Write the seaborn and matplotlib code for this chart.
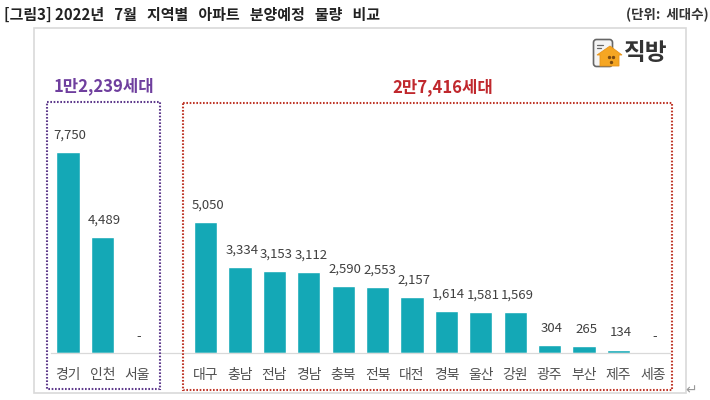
import matplotlib
matplotlib.use("Agg")
import matplotlib.pyplot as plt
from matplotlib.patches import FancyBboxPatch, Polygon, Rectangle
import pandas as pd
import seaborn as sns

# empty category keeps the gap between the two groups
regions = ['경기', '인천', '서울', ' ', '대구', '충남', '전남', '경남', '충북', '전북',
           '대전', '경북', '울산', '강원', '광주', '부산', '제주', '세종']
values = [7750, 4489, 0, 0, 5050, 3334, 3153, 3112, 2590, 2553,
          2157, 1614, 1581, 1569, 304, 265, 134, 0]
value_labels = ['7,750', '4,489', '-', '', '5,050', '3,334', '3,153', '3,112', '2,590', '2,553',
                '2,157', '1,614', '1,581', '1,569', '304', '265', '134', '-']

sns.set_theme(style='white')
plt.rcParams['font.family'] = ['Noto Sans CJK KR', 'DejaVu Sans']

df = pd.DataFrame({'region': regions, 'value': values})

W, H = 710, 400
fig = plt.figure(figsize=(W / 100, H / 100), dpi=100, facecolor='white')

# plot area in pixels: slots start at 50.8, baseline at y=353
ax = fig.add_axes([50.8 / W, (H - 353) / H, 619.2 / W, 232 / H])
sns.barplot(data=df, x='region', y='value', order=regions, color='#14A8B6',
            saturation=1, width=0.68, ax=ax)
ax.set_ylim(0, 8950)
ax.set_xlim(-0.5, 17.5)
ax.set_xlabel('')
ax.set_ylabel('')
ax.set_yticks([])
ax.tick_params(axis='x', length=0, pad=11, labelsize=10, labelcolor='#505050')
sns.despine(ax=ax, left=True)
ax.spines['bottom'].set_color('#D9D9D9')
ax.spines['bottom'].set_linewidth(0.9)
ax.patch.set_alpha(0)
bar_texts = ax.bar_label(ax.containers[0], labels=value_labels, padding=7.5, fontsize=9.5, color='#404040')
# the labels sit a little right of the bar centres
for t in bar_texts:
    t.xyann = (1.5, t.xyann[1])

# overlay in pixel coordinates for frame, group boxes, headings and logo
ov = fig.add_axes([0, 0, 1, 1], zorder=5)
ov.set_xlim(0, W)
ov.set_ylim(H, 0)
ov.axis('off')
ov.patch.set_alpha(0)

ov.add_patch(Rectangle((33.5, 27.5), 652, 365, fill=False, ec='#D9D9D9', lw=1.2))
ov.add_patch(Rectangle((46.5, 102), 113.5, 287, fill=False, ec='#5E3A8C', lw=1.5, ls=(0, (0.8, 0.8))))
ov.add_patch(Rectangle((183, 103), 489, 286.5, fill=False, ec='#C0392B', lw=1.5, ls=(0, (0.8, 0.8))))

ov.text(4, 14.5, '[그림3] 2022년   7월   지역별   아파트   분양예정   물량   비교', fontsize=10.8, fontweight='bold',
        color='#222222', ha='left', va='center')
ov.text(709, 15, '(단위:  세대수)', fontsize=9.7, fontweight='bold', color='#333333', ha='right', va='center')
ov.text(104, 86, '1만2,239세대', fontsize=12, fontweight='bold', color='#6F3F9E', ha='center', va='center')
ov.text(443, 87, '2만7,416세대', fontsize=12, fontweight='bold', color='#C0282D', ha='center', va='center')
ov.text(691, 390, '↵', fontsize=10, color='#999999', ha='center', va='center')

# logo
ov.add_patch(FancyBboxPatch((593.5, 39.5), 19, 27, boxstyle='round,pad=0,rounding_size=3',
                            fc='#F4F4F4', ec='#666666', lw=1.2))
ov.plot([597, 603], [45, 45], color='#666666', lw=0.9)
ov.plot([597, 601], [48, 48], color='#666666', lw=0.9)
ov.add_patch(Polygon([(597, 55), (610, 46), (622, 55), (619, 55), (619, 66), (600, 66), (600, 55)],
                     closed=True, fc='#F5A623', ec='#E8951A', lw=0.6))
ov.plot([609, 612.5, 611], [56.5, 56.5, 61.5], ls='none', marker='o', ms=1.4, color='#7A4A10')
ov.text(646, 52.5, '직방', fontsize=17, fontweight='bold', color='#333333', ha='center', va='center')

fig.savefig('out.png', dpi=100, facecolor='white')
